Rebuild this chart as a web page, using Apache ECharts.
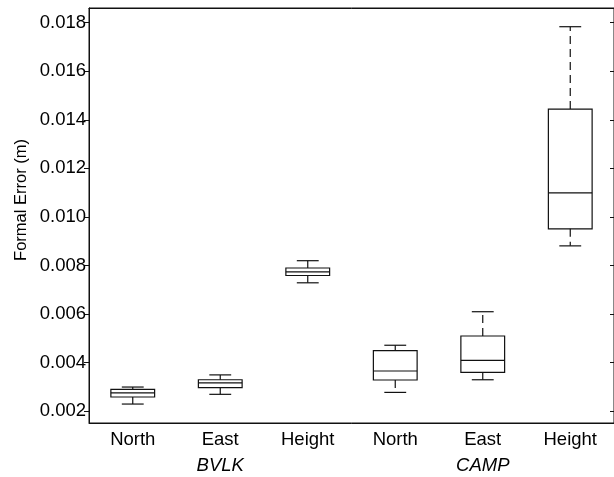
<!DOCTYPE html>
<html>
<head>
<meta charset="utf-8">
<script src="https://cdn.jsdelivr.net/npm/echarts@6/dist/echarts.min.js"></script>
<style>
  html, body { margin: 0; padding: 0; background: #fff; }
  #chart { width: 614px; height: 477px; }
</style>
</head>
<body>
<div id="chart"></div>
<script>
// categories and stations
var categories = ["BVLK North", "BVLK East", "BVLK Height", "CAMP North", "CAMP East", "CAMP Height"];
var tickLabels = ["North", "East", "Height", "North", "East", "Height"];
var stations = ["BVLK", "CAMP"];

// box statistics (m)
var lowerWhisker = [0.00230, 0.00270, 0.00729, 0.00278, 0.00330, 0.00881];
var q1 = [0.00259, 0.00298, 0.00759, 0.00329, 0.00360, 0.00951];
var median = [0.00276, 0.00317, 0.00774, 0.00366, 0.00410, 0.01099];
var q3 = [0.00290, 0.00330, 0.00790, 0.00450, 0.00510, 0.01444];
var upperWhisker = [0.00300, 0.00350, 0.00820, 0.00472, 0.00610, 0.01783];

var boxData = categories.map(function(c, i) {
    return [i, lowerWhisker[i], q1[i], median[i], q3[i], upperWhisker[i]];
});

var font = "Liberation Sans, Arial, Helvetica, sans-serif";
var lineColor = "#111";

function renderBox(params, api) {
    var x = api.value(0);
    var pLo = api.coord([x, api.value(1)]);
    var pQ1 = api.coord([x, api.value(2)]);
    var pMed = api.coord([x, api.value(3)]);
    var pQ3 = api.coord([x, api.value(4)]);
    var pHi = api.coord([x, api.value(5)]);
    var band = api.size([1, 0])[0];
    var bw = band * 0.5;
    var cw = bw * 0.5;
    var cx = pMed[0];
    var solid = { stroke: lineColor, lineWidth: 1.2, fill: null };
    var dash = { stroke: lineColor, lineWidth: 1.2, lineDash: [8, 5] };
    return {
        type: "group",
        children: [
            { type: "line", shape: { x1: cx, y1: pQ3[1], x2: cx, y2: pHi[1] }, style: dash },
            { type: "line", shape: { x1: cx, y1: pQ1[1], x2: cx, y2: pLo[1] }, style: dash },
            { type: "line", shape: { x1: cx - cw / 2, y1: pHi[1], x2: cx + cw / 2, y2: pHi[1] }, style: solid },
            { type: "line", shape: { x1: cx - cw / 2, y1: pLo[1], x2: cx + cw / 2, y2: pLo[1] }, style: solid },
            { type: "rect", shape: { x: cx - bw / 2, y: pQ3[1], width: bw, height: pQ1[1] - pQ3[1] }, style: solid },
            { type: "line", shape: { x1: cx - bw / 2, y1: pMed[1], x2: cx + bw / 2, y2: pMed[1] }, style: solid }
        ]
    };
}

var myChart = echarts.init(document.getElementById("chart"));
var option = {
    backgroundColor: "#fff",
    animation: false,
    grid: {
        left: 89,
        top: 8,
        width: 528,
        height: 415,
        show: true,
        borderColor: lineColor,
        borderWidth: 1
    },
    graphic: [{
        type: "text",
        x: 21,
        y: 200,
        rotation: Math.PI / 2,
        style: {
            text: "Formal Error (m)",
            font: "16.5px " + font,
            fill: "#000",
            align: "center",
            verticalAlign: "middle"
        }
    }],
    xAxis: [{
        type: "category",
        data: categories,
        position: "bottom",
        axisLine: { lineStyle: { color: lineColor } },
        axisTick: { inside: true, length: 4, alignWithLabel: true, lineStyle: { color: lineColor } },
        axisLabel: {
            margin: 7,
            color: "#000",
            fontFamily: font,
            fontSize: 18.5,
            formatter: function(v, i) { return tickLabels[i]; }
        },
        splitLine: { show: false }
    }, {
        type: "category",
        data: stations,
        position: "bottom",
        offset: 26,
        axisLine: { show: false },
        axisTick: { show: false },
        axisLabel: {
            margin: 7,
            color: "#000",
            fontFamily: font,
            fontSize: 18.5,
            fontStyle: "italic"
        }
    }, {
        type: "category",
        data: categories,
        position: "top",
        axisLine: { lineStyle: { color: lineColor } },
        axisTick: { inside: true, length: 4, alignWithLabel: true, lineStyle: { color: lineColor } },
        axisLabel: { show: false }
    }],
    yAxis: [{
        type: "value",
        min: 0.00152,
        max: 0.0186,
        splitNumber: 8,
        position: "left",
        axisLine: { show: true, lineStyle: { color: lineColor } },
        axisTick: { show: true, inside: false, length: 5, lineStyle: { color: lineColor } },
        axisLabel: {
            margin: 3,
            color: "#000",
            fontFamily: font,
            fontSize: 18.5,
            showMinLabel: false,
            showMaxLabel: false,
            formatter: function(v) { return v.toFixed(3); }
        },
        splitLine: { show: false }
    }, {
        type: "value",
        min: 0.00152,
        max: 0.0186,
        splitNumber: 8,
        position: "right",
        axisLine: { show: true, lineStyle: { color: lineColor } },
        axisTick: { show: true, inside: true, length: 4, lineStyle: { color: lineColor } },
        axisLabel: { show: false },
        splitLine: { show: false }
    }],
    series: [{
        type: "custom",
        xAxisIndex: 0,
        yAxisIndex: 0,
        renderItem: renderBox,
        encode: { x: 0, y: [1, 2, 3, 4, 5] },
        data: boxData
    }]
};
myChart.setOption(option);
</script>
</body>
</html>
